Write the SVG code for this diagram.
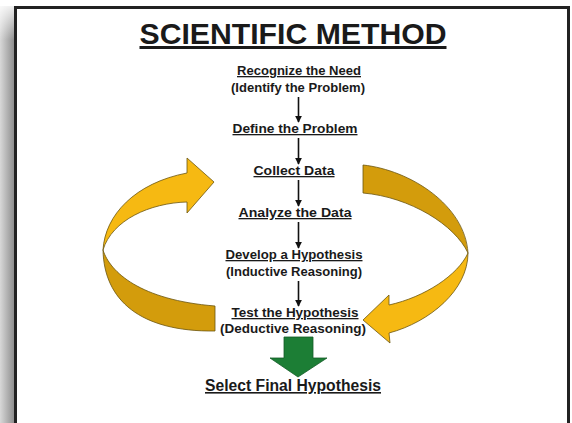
<svg xmlns="http://www.w3.org/2000/svg" width="572" height="423" viewBox="0 0 572 423">
<defs>
<linearGradient id="shadow" x1="0" y1="0" x2="1" y2="0">
<stop offset="0" stop-color="#d8d8d8"/>
<stop offset="1" stop-color="#8a8a8a"/>
</linearGradient>
<linearGradient id="fade" x1="0" y1="0" x2="0" y2="1">
<stop offset="0" stop-color="#ffffff" stop-opacity="1"/>
<stop offset="1" stop-color="#ffffff" stop-opacity="0"/>
</linearGradient>
<marker id="ah" viewBox="0 0 10 10" refX="9" refY="5" markerWidth="7" markerHeight="7" markerUnits="userSpaceOnUse" orient="auto">
<path d="M0,0 L10,5 L0,10 Z" fill="#111"/>
</marker>
</defs>
<style>
.t{font-family:"Liberation Sans",Arial,sans-serif;font-weight:bold;fill:#1a1a1a;text-anchor:middle}
.s{font-size:13px}
.u{text-decoration:underline}
.light{fill:#F6B912;stroke:#6b5510;stroke-width:0.8}
.dark{fill:#D39C0C;stroke:#6b5510;stroke-width:0.8}
.link{stroke:#111;stroke-width:1.6;fill:none;marker-end:url(#ah)}
</style>
<rect width="572" height="423" fill="#ffffff"/>
<rect x="0" y="6" width="15" height="417" fill="url(#shadow)"/>
<rect x="0" y="0" width="15" height="40" fill="url(#fade)"/>
<rect x="15.5" y="7.5" width="553" height="430" fill="#ffffff" stroke="#222" stroke-width="3"/>

<g id="title"><text class="t u" x="293" y="44" font-size="30" textLength="307" lengthAdjust="spacingAndGlyphs">SCIENTIFIC METHOD</text></g>

<g id="loop-left">
<path class="dark" d="M103,250 C110,272 140,300 215,306 L215,331 C140,332 104,300 103,250 Z"/>
<path class="light" d="M103,250 C105,215 135,183 187,173 L187,158 L214,182 L187,213 L187,202 C150,203 112,220 103,250 Z"/>
</g>
<g id="loop-right">
<path class="dark" d="M363,165 C410,170 465,205 468,253 C455,225 410,197 363,193 Z"/>
<path class="light" d="M468,253 C468,290 430,322 389,333 L390,343 L363,320 L389,295 L389,305 C425,297 458,275 468,253 Z"/>
</g>

<g id="n1"><text class="t s u" x="299" y="75" textLength="124" lengthAdjust="spacingAndGlyphs">Recognize the Need</text>
<text class="t s" x="298" y="92" textLength="134" lengthAdjust="spacingAndGlyphs">(Identify the Problem)</text></g>
<g id="n2"><text class="t s u" x="295" y="133" textLength="125" lengthAdjust="spacingAndGlyphs">Define the Problem</text></g>
<g id="n3"><text class="t s u" x="294" y="175" textLength="81" lengthAdjust="spacingAndGlyphs">Collect Data</text></g>
<g id="n4"><text class="t s u" x="295" y="217" textLength="113" lengthAdjust="spacingAndGlyphs">Analyze the Data</text></g>
<g id="n5"><text class="t s u" x="294" y="259" textLength="137" lengthAdjust="spacingAndGlyphs">Develop a Hypothesis</text>
<text class="t s" x="294" y="276" textLength="136" lengthAdjust="spacingAndGlyphs">(Inductive Reasoning)</text></g>
<g id="n6"><text class="t s u" x="295" y="317" textLength="127" lengthAdjust="spacingAndGlyphs">Test the Hypothesis</text>
<text class="t s" x="293" y="333" textLength="146" lengthAdjust="spacingAndGlyphs">(Deductive Reasoning)</text></g>
<g id="n7"><text class="t u" x="293" y="391" font-size="16" textLength="176" lengthAdjust="spacingAndGlyphs">Select Final Hypothesis</text></g>

<g id="connectors">
<line class="link" x1="298.5" y1="97" x2="298.5" y2="122"/>
<line class="link" x1="298.5" y1="138" x2="298.5" y2="164"/>
<line class="link" x1="298.5" y1="180" x2="298.5" y2="206"/>
<line class="link" x1="298.5" y1="222" x2="298.5" y2="248"/>
<line class="link" x1="298.5" y1="281" x2="298.5" y2="306"/>
<path d="M284,337 L313,337 L313,358 L327,358 L298,377 L270,358 L284,358 Z" fill="#1C7E35" stroke="#145c27" stroke-width="0.8"/>
</g>
</svg>
